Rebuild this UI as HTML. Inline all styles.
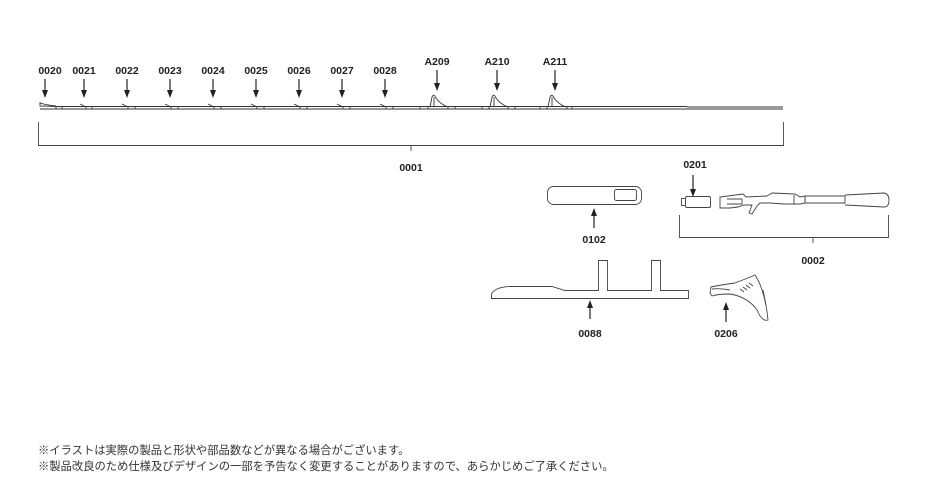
<!DOCTYPE html>
<html><head><meta charset="utf-8"><style>
body{margin:0;background:#fff;}
svg text{font-family:"Liberation Sans",Arial,sans-serif;font-size:10.5px;font-weight:bold;fill:#222;text-anchor:middle;}
.n{position:absolute;left:38px;font-family:"Liberation Sans","Noto Sans CJK JP",sans-serif;font-size:11.3px;color:#333;white-space:nowrap;}
</style></head><body>
<div style="position:relative;width:940px;height:504px;overflow:hidden">
<svg width="940" height="504" viewBox="0 0 940 504" style="position:absolute;left:0;top:0">
<g stroke="#222" stroke-width="1.2">
<line x1="45" y1="79" x2="45" y2="91"/><line x1="84" y1="79" x2="84" y2="91"/><line x1="127" y1="79" x2="127" y2="91"/><line x1="170" y1="79" x2="170" y2="91"/><line x1="213" y1="79" x2="213" y2="91"/><line x1="256" y1="79" x2="256" y2="91"/><line x1="299" y1="79" x2="299" y2="91"/><line x1="342" y1="79" x2="342" y2="91"/><line x1="385" y1="79" x2="385" y2="91"/>
<line x1="437" y1="70" x2="437" y2="84"/><line x1="497" y1="70" x2="497" y2="84"/><line x1="555" y1="70" x2="555" y2="84"/>
<line x1="693" y1="175" x2="693" y2="190"/>
<line x1="594" y1="228" x2="594" y2="215"/>
<line x1="590" y1="319" x2="590" y2="307"/>
<line x1="726" y1="322" x2="726" y2="309"/>
</g>
<g fill="#222">
<path d="M42,90h6l-3,8z M81,90h6l-3,8z M124,90h6l-3,8z M167,90h6l-3,8z M210,90h6l-3,8z M253,90h6l-3,8z M296,90h6l-3,8z M339,90h6l-3,8z M382,90h6l-3,8z"/>
<path d="M434,83h6l-3,8z M494,83h6l-3,8z M552,83h6l-3,8z M690,189h6l-3,8z"/>
<path d="M591,216h6l-3,-8z M587,308h6l-3,-8z M723,310h6l-3,-8z"/>
</g>
<text x="50" y="74">0020</text><text x="84" y="74">0021</text><text x="127" y="74">0022</text><text x="170" y="74">0023</text><text x="213" y="74">0024</text><text x="256" y="74">0025</text><text x="299" y="74">0026</text><text x="342" y="74">0027</text><text x="385" y="74">0028</text>
<text x="437" y="65">A209</text><text x="497" y="65">A210</text><text x="555" y="65">A211</text>
<text x="411" y="171">0001</text><text x="695" y="168">0201</text><text x="594" y="243">0102</text><text x="813" y="264">0002</text><text x="590" y="337">0088</text><text x="726" y="337">0206</text>
<!-- rod -->
<g fill="none" stroke="#333" stroke-width="0.9">
<path d="M40,102 L40,106 Q48,106 56,106.5 L783,106.5"/>
<line x1="40" y1="109" x2="783" y2="109"/>
<path d="M40,103 Q46,105 56,106"/>
<path d="M80,104 L86,107 M122,104 L128,107 M165,104 L171,107 M208,104 L214,107 M251,104 L257,107 M294,104 L300,107 M337,104 L343,107 M380,104 L386,107"/>
<path d="M56,106 v3 M62,106 v3 M86,106 v3 M92,106 v3 M128,106 v3 M135,106 v3 M171,106 v3 M178,106 v3 M214,106 v3 M221,106 v3 M257,106 v3 M264,106 v3 M300,106 v3 M307,106 v3 M343,106 v3 M350,106 v3 M386,106 v3 M393,106 v3 M420,106 v3 M428,106 v3 M448,106 v3 M455,106 v3 M482,106 v3 M489,106 v3 M508,106 v3 M515,106 v3 M540,106 v3 M547,106 v3 M567,106 v3 M572,106 v3"/>
<path d="M430,107 L432,97 Q434,93 436,98 Q440,104 448,107 M434,97 L434,107"/>
<path d="M490,107 L492,97 Q494,93 496,98 Q500,104 508,107 M494,97 L494,107"/>
<path d="M548,107 L550,97 Q552,93 554,98 Q558,104 566,107 M552,97 L552,107"/>
</g>
<rect x="687" y="106" width="96" height="3" fill="#999"/>
<g fill="none" stroke="#444" stroke-width="0.9">
<path d="M38.5,122 V145.5 H783.5 V122 M411,145.5 V151"/>
<path d="M679.5,215 V237.5 H888.5 V215 M813,237.5 V243"/>
<rect x="547.5" y="186.5" width="94" height="18" rx="6"/>
<rect x="614.5" y="189.5" width="22" height="11" rx="2"/>
<rect x="681.5" y="198.5" width="4" height="7"/>
<rect x="685.5" y="196.5" width="25" height="11" rx="1.5"/>
<path d="M720,197 L743,194 L746,197 L767,196 L772,193 L795,194 L800,197 L805,196 L805,203 L800,204 L784,204 L770,203 L760,203 L757,206 L752,214 L749,213 L752,205 L744,205 L738,207 L730,208 L720,208 Z"/>
<path d="M727,199 L742,199 L742,204 L727,204"/>
<path d="M794,195 V204 M805,196 L805,203 L845,203 L845,196 L805,196 M845,195 L884,193 Q889,194 889,200 Q889,207 884,207 L845,205"/>
<path d="M491.5,298.5 L491.5,294 Q495,287 510,286.5 L552,286.5 L565,290.5 L598.5,290.5 V260.5 H607.5 V290.5 H651.5 V260.5 H660.5 V290.5 H688.5 V298.5 Z"/>
<path d="M711,287 Q720,285 735,283 Q748,278 755,275 Q765,290 768,320 Q762,322 757,310 Q748,297 730,294 Q718,294 712,296 L710,293 Z"/>
<path d="M712,289 Q720,288 730,290 M740,289 L744,292 M743,287 L747,290 M746,285 L750,288 M749,283 L753,286 M763,290 L766,305"/>
</g>
</svg>
<div class="n" style="top:442px">※イラストは実際の製品と形状や部品数などが異なる場合がございます。</div>
<div class="n" style="top:458px">※製品改良のため仕様及びデザインの一部を予告なく変更することがありますので、あらかじめご了承ください。</div>
</div>
</body></html>
